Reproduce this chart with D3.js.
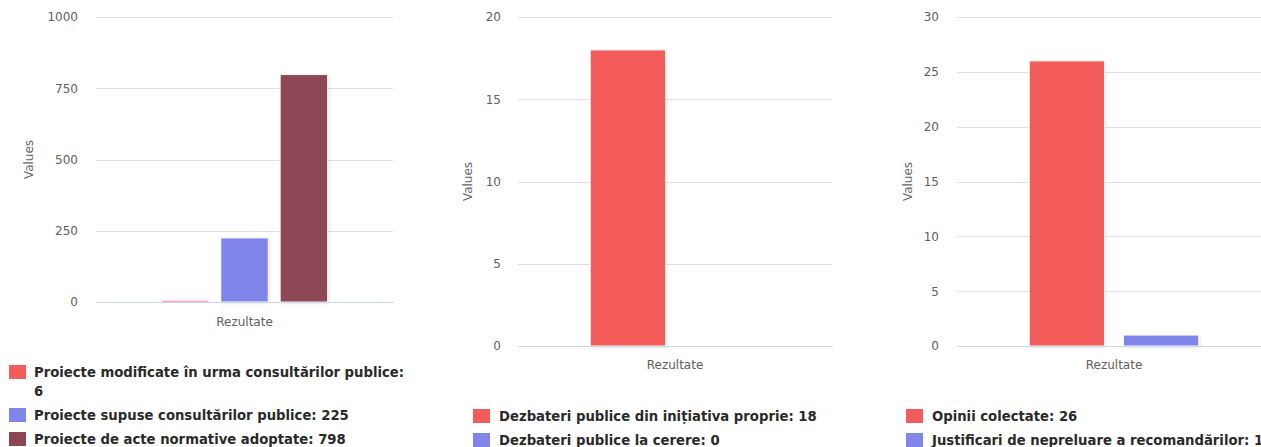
<!DOCTYPE html>
<html>
<head>
<meta charset="utf-8">
<script src="https://cdn.jsdelivr.net/npm/d3@7"></script>
<style>
  html, body { margin: 0; padding: 0; background: #fff; overflow: hidden; }
  svg { display: block; }
</style>
</head>
<body>
<svg id="chart" width="1261" height="447"></svg>
<script>
// ---- data ----
const categories = ["Rezultate"];
const axisTitle = "Values";

const chart1Names = [
  "Proiecte modificate în urma consultărilor publice",
  "Proiecte supuse consultărilor publice",
  "Proiecte de acte normative adoptate"
];
const chart1Values = [6, 225, 798];
const chart1Ticks = [0, 250, 500, 750, 1000];

const chart2Names = [
  "Dezbateri publice din inițiativa proprie",
  "Dezbateri publice la cerere"
];
const chart2Values = [18, 0];
const chart2Ticks = [0, 5, 10, 15, 20];

const chart3Names = [
  "Opinii colectate",
  "Justificari de nepreluare a recomandărilor"
];
const chart3Values = [26, 1];
const chart3Ticks = [0, 5, 10, 15, 20, 25, 30];

const seriesColors = ["#f45b5b", "#8085e9", "#8d4654"];

// ---- layout (styling only) ----
const charts = [
  { names: chart1Names, values: chart1Values, ticks: chart1Ticks,
    x0: 96, x1: 393, y0: 17, y1: 302, labelX: 78, titleX: 29, catY: 322,
    legendSq: 9, legendText: 34, legendY: 372, wrap: 375 },
  { names: chart2Names, values: chart2Values, ticks: chart2Ticks,
    x0: 518, x1: 832, y0: 17, y1: 346, labelX: 501, titleX: 468, catY: 365,
    legendSq: 473, legendText: 499, legendY: 416, wrap: 400 },
  { names: chart3Names, values: chart3Values, ticks: chart3Ticks,
    x0: 957, x1: 1271, y0: 17, y1: 346, labelX: 939, titleX: 908, catY: 365,
    legendSq: 906, legendText: 932, legendY: 416, wrap: 400 }
];

const svg = d3.select("#chart");
const defs = svg.append("defs");
const f = defs.append("filter").attr("id", "shadow")
  .attr("x", "-20%").attr("y", "-20%").attr("width", "140%").attr("height", "140%");
f.append("feDropShadow").attr("dx", 1).attr("dy", 1).attr("stdDeviation", 1)
  .attr("flood-color", "#000").attr("flood-opacity", 0.12);

const axisFont = "'DejaVu Sans', Verdana, sans-serif";
const legendFont = "'DejaVu Sans Condensed', 'DejaVu Sans', sans-serif";

charts.forEach(c => {
  const g = svg.append("g");
  const y = d3.scaleLinear().domain([0, d3.max(c.ticks)]).range([c.y1, c.y0]);
  const x = d3.scaleBand().domain(categories).range([c.x0, c.x1]).paddingInner(0).paddingOuter(0);
  const groupPad = 0.2 * x.bandwidth();
  const x2 = d3.scaleBand().domain(d3.range(c.values.length))
    .range([x(categories[0]) + groupPad, x(categories[0]) + x.bandwidth() - groupPad])
    .paddingInner(0.2).paddingOuter(0.1);

  // grid
  const yAxis = d3.axisLeft(y).tickValues(c.ticks).tickFormat(d3.format("d"))
    .tickSize(-(c.x1 - c.x0)).tickPadding(0);
  const ga = g.append("g").attr("transform", `translate(${c.x0},0)`).call(yAxis);
  ga.select(".domain").remove();
  ga.selectAll(".tick line").attr("stroke", "#e0e0e0").attr("stroke-width", 1)
    .attr("shape-rendering", "crispEdges");
  ga.selectAll(".tick text")
    .attr("x", c.labelX - c.x0)
    .attr("text-anchor", "end")
    .attr("fill", "#606060")
    .style("font-family", axisFont)
    .style("font-size", "12px");

  // y-axis title
  g.append("text")
    .attr("transform", `translate(${c.titleX},${(c.y0 + c.y1) / 2}) rotate(-90)`)
    .attr("text-anchor", "middle")
    .attr("dy", "0.35em")
    .attr("fill", "#666")
    .style("font-family", axisFont)
    .style("font-size", "12px")
    .text(axisTitle);

  // bars
  g.append("g").selectAll("rect").data(c.values).join("rect")
    .attr("x", (d, i) => x2(i))
    .attr("width", x2.bandwidth())
    .attr("y", d => y(d))
    .attr("height", d => Math.max(0, y(0) - y(d)))
    .attr("fill", (d, i) => seriesColors[i])
    .attr("stroke", "#fff").attr("stroke-width", 1)
    .attr("filter", "url(#shadow)")
    .style("display", d => d > 0 ? null : "none");

  // x axis
  const xAxis = d3.axisBottom(x).tickSize(0).tickPadding(0);
  const gx = g.append("g").attr("transform", `translate(0,${c.y1})`).call(xAxis);
  gx.select(".domain").attr("stroke", "#ccd6eb").attr("shape-rendering", "crispEdges");
  gx.selectAll(".tick text")
    .attr("y", c.catY - c.y1)
    .attr("dy", "0.35em")
    .attr("fill", "#606060")
    .style("font-family", axisFont)
    .style("font-size", "12px");

  // legend
  let ly = c.legendY;
  c.names.forEach((name, i) => {
    const label = `${name}: ${c.values[i]}`;
    g.append("rect")
      .attr("x", c.legendSq).attr("y", ly - 7)
      .attr("width", 17).attr("height", 14)
      .attr("fill", seriesColors[i]);
    const t = g.append("text")
      .attr("x", c.legendText).attr("y", ly)
      .attr("dy", "0.36em")
      .attr("fill", "#2a2a2a")
      .style("font-family", legendFont)
      .style("font-weight", "bold")
      .style("font-size", "14.7px")
      .text(label);
    if (t.node().getComputedTextLength() > c.wrap) {
      const words = label.split(" ");
      const last = words.pop();
      t.text(words.join(" "));
      ly += 19;
      g.append("text")
        .attr("x", c.legendText).attr("y", ly)
        .attr("dy", "0.36em")
        .attr("fill", "#2a2a2a")
        .style("font-family", legendFont)
        .style("font-weight", "bold")
        .style("font-size", "14.7px")
        .text(last);
    }
    ly += 24;
  });
});
</script>
</body>
</html>
